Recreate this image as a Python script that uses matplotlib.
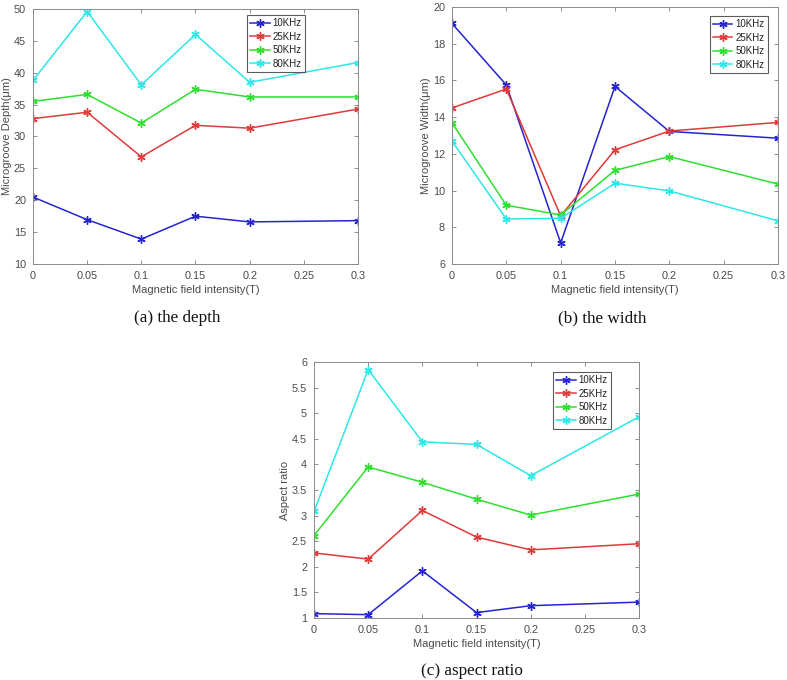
import matplotlib
matplotlib.use("Agg")
import matplotlib.pyplot as plt

plt.rcParams["font.family"] = ["Liberation Sans", "DejaVu Sans"]

x = [0, 0.05, 0.1, 0.15, 0.2, 0.3]
labels = ["10KHz", "25KHz", "50KHz", "80KHz"]
colors = ["#2424d0", "#e03a3a", "#2ee02e", "#2ee6e6"]

depth_10 = [20.5, 16.95, 13.9, 17.5, 16.6, 16.8]
depth_25 = [32.8, 33.8, 26.8, 31.75, 31.3, 34.3]
depth_50 = [35.5, 36.6, 32.1, 37.4, 36.2, 36.2]
depth_80 = [38.8, 49.6, 38.1, 46.0, 38.5, 41.6]

width_10 = [19.1, 15.75, 7.15, 15.67, 13.22, 12.85]
width_25 = [14.5, 15.53, 8.62, 12.22, 13.24, 13.71]
width_50 = [13.69, 9.2, 8.67, 11.1, 11.85, 10.35]
width_80 = [12.69, 8.45, 8.49, 10.4, 9.98, 8.35]

ratio_10 = [1.085, 1.065, 1.92, 1.105, 1.24, 1.31]
ratio_25 = [2.27, 2.15, 3.10, 2.58, 2.33, 2.45]
ratio_50 = [2.61, 3.95, 3.65, 3.32, 3.01, 3.42]
ratio_80 = [3.08, 5.85, 4.44, 4.39, 3.78, 4.93]

xticks = [0, 0.05, 0.1, 0.15, 0.2, 0.25, 0.3]
xticklabels = ["0", "0.05", "0.1", "0.15", "0.2", "0.25", "0.3"]

panels = [
    dict(rect=[0.0419, 0.6118, 0.413, 0.375], series=[depth_10, depth_25, depth_50, depth_80],
         ylim=(10, 50), yticks=[10, 15, 20, 25, 30, 35, 40, 45, 50],
         yticklabels=["10", "15", "20", "25", "30", "35", "40", "45", "50"],
         ylabel="Microgroove Depth(μm)", caption="(a) the depth", cap_xy=(0.225, 0.532),
         leg=(0.837, 0.976)),
    dict(rect=[0.5743, 0.6118, 0.4143, 0.378], series=[width_10, width_25, width_50, width_80],
         ylim=(6, 20), yticks=[6, 8, 10, 12, 14, 16, 18, 20],
         yticklabels=["6", "8", "10", "12", "14", "16", "18", "20"],
         ylabel="Microgroove Width(μm)", caption="(b) the width", cap_xy=(0.765, 0.532),
         leg=(0.969, 0.965)),
    dict(rect=[0.399, 0.0912, 0.413, 0.3765], series=[ratio_10, ratio_25, ratio_50, ratio_80],
         ylim=(1, 6), yticks=[1, 1.5, 2, 2.5, 3, 3.5, 4, 4.5, 5, 5.5, 6],
         yticklabels=["1", "1.5", "2", "2.5", "3", "3.5", "4", "4.5", "5", "5.5", "6"],
         ylabel="Aspect ratio", caption="(c) aspect ratio", cap_xy=(0.6, 0.013),
         leg=(0.914, 0.961)),
]

fig = plt.figure(figsize=(7.87, 6.80), dpi=100)
txt = "#4a4a4a"
for p in panels:
    ax = fig.add_axes(p["rect"])
    for s, lab, c in zip(p["series"], labels, colors):
        ax.plot(x, s, color=c, marker=(6, 2, 0), markersize=6, linewidth=1.1, label=lab,
                markeredgewidth=1.0)
    ax.set_xlim(0, 0.3)
    ax.set_ylim(*p["ylim"])
    ax.set_xticks(xticks)
    ax.set_xticklabels(xticklabels)
    ax.set_yticks(p["yticks"])
    ax.set_yticklabels(p["yticklabels"])
    ax.tick_params(direction="in", top=True, right=True, length=3, width=0.6,
                   colors="#7a7a7a", labelcolor=txt, labelsize=7.8, pad=5)
    for sp in ax.spines.values():
        sp.set_color("#8a8a8a")
        sp.set_linewidth(0.7)
    ax.set_xlabel("Magnetic field intensity(T)", fontsize=8, color=txt, labelpad=3)
    ax.set_ylabel(p["ylabel"], fontsize=8, color=txt, labelpad=1)
    leg = ax.legend(loc="upper right", bbox_to_anchor=p["leg"], fontsize=7, frameon=True,
                    fancybox=False, handlelength=2.0, borderpad=0.35, labelspacing=0.35,
                    handletextpad=0.3, borderaxespad=0)
    leg.get_frame().set_edgecolor("#333333")
    leg.get_frame().set_linewidth(0.8)
    for t in leg.get_texts():
        t.set_color("#222222")
    fig.text(p["cap_xy"][0], p["cap_xy"][1], p["caption"], ha="center", va="center",
             fontsize=12.3, family="Liberation Serif", color="#111111")

fig.savefig("out.png", dpi=100)
